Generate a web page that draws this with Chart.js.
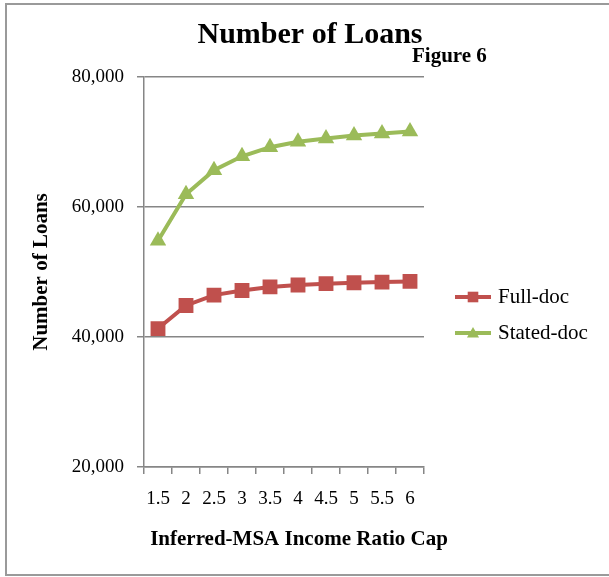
<!DOCTYPE html>
<html>
<head>
<meta charset="utf-8">
<script src="https://cdn.jsdelivr.net/npm/chart.js@4/dist/chart.umd.min.js"></script>
<style>
  html, body { margin: 0; padding: 0; background: #fff; }
  #wrap { width: 609px; height: 577px; position: relative; }
  canvas { display: block; }
</style>
</head>
<body>
<div id="wrap"><canvas id="c" width="609" height="577"></canvas></div>
<script>
const categories = ['1.5', '2', '2.5', '3', '3.5', '4', '4.5', '5', '5.5', '6'];
const fullDoc = [41300, 44850, 46450, 47150, 47700, 48000, 48200, 48350, 48450, 48550];
const statedDoc = [54800, 61950, 65650, 67800, 69200, 70050, 70550, 71000, 71300, 71600];
const seriesNames = ['Full-doc', 'Stated-doc'];
const chartTitle = 'Number of Loans';
const figureLabel = 'Figure 6';
const xTitle = 'Inferred-MSA Income Ratio Cap';
const yTitle = 'Number of Loans';

const RED = '#C0504D';
const GREEN = '#9BBB59';
const GRID = '#868686';
const SERIF = '"Liberation Serif", "Times New Roman", serif';

function drawMarker(ctx, style, x, y, r, color) {
  Chart.helpers.drawPoint(ctx, {pointStyle: style, rotation: 0, borderWidth: 0}, x, y);
}

const decor = {
  id: 'decor',
  beforeDraw(chart) {
    const ctx = chart.ctx;
    ctx.save();
    ctx.fillStyle = '#fff';
    ctx.fillRect(0, 0, chart.width, chart.height);
    ctx.strokeStyle = '#9a9a9a';
    ctx.lineWidth = 2;
    ctx.strokeRect(6, 4, chart.width + 10, chart.height - 6);
    ctx.restore();
  },
  afterDraw(chart) {
    const ctx = chart.ctx;
    const a = chart.chartArea;
    ctx.save();
    ctx.fillStyle = '#000';
    ctx.textBaseline = 'middle';
    // title
    ctx.font = 'bold 30px ' + SERIF;
    ctx.textAlign = 'center';
    ctx.fillText(chartTitle, 310, 35);
    // figure label
    ctx.font = 'bold 21px ' + SERIF;
    ctx.textAlign = 'left';
    ctx.fillText(figureLabel, 412, 57);
    // x title
    ctx.font = 'bold 21px ' + SERIF;
    ctx.textAlign = 'center';
    ctx.fillText(xTitle, 299, 540);
    // y title
    ctx.save();
    ctx.translate(42, (a.top + a.bottom) / 2);
    ctx.rotate(-Math.PI / 2);
    ctx.fillText(yTitle, 0, 0);
    ctx.restore();
    // legend
    const items = [
      {name: seriesNames[0], color: RED, style: 'rect', r: 7.5, y: 297},
      {name: seriesNames[1], color: GREEN, style: 'triangle', r: 7, y: 333}
    ];
    ctx.font = '21px ' + SERIF;
    ctx.textAlign = 'left';
    items.forEach(it => {
      ctx.strokeStyle = it.color;
      ctx.lineWidth = 4;
      ctx.beginPath();
      ctx.moveTo(455, it.y);
      ctx.lineTo(491, it.y);
      ctx.stroke();
      ctx.fillStyle = it.color;
      Chart.helpers.drawPoint(ctx, {pointStyle: it.style, radius: it.r, rotation: 0, borderWidth: 0}, 473, it.style === 'triangle' ? it.y + 1 : it.y);
      ctx.fillStyle = '#000';
      ctx.fillText(it.name, 498, it.y);
    });
    ctx.restore();
  }
};

new Chart(document.getElementById('c'), {
  type: 'line',
  data: {
    labels: categories,
    datasets: [
      {
        label: seriesNames[0],
        data: fullDoc,
        borderColor: RED,
        backgroundColor: RED,
        borderWidth: 4,
        pointStyle: 'rect',
        pointRadius: 10.5,
        pointBorderWidth: 0,
        pointBackgroundColor: RED,
        tension: 0
      },
      {
        label: seriesNames[1],
        data: statedDoc,
        borderColor: GREEN,
        backgroundColor: GREEN,
        borderWidth: 4,
        pointStyle: 'triangle',
        pointRadius: 9.5,
        pointBorderWidth: 0,
        pointBackgroundColor: GREEN,
        tension: 0
      }
    ]
  },
  options: {
    responsive: false,
    animation: false,
    devicePixelRatio: 1,
    layout: { padding: { top: 77, right: 185, left: 0, bottom: 0 } },
    plugins: {
      legend: { display: false },
      title: { display: false },
      tooltip: { enabled: false }
    },
    scales: {
      x: {
        type: 'category',
        offset: true,
        grid: {
          offset: true,
          drawOnChartArea: false,
          drawTicks: true,
          tickLength: 7,
          color: GRID,
          lineWidth: 1.5
        },
        border: { display: true, color: GRID, width: 1.5 },
        ticks: {
          color: '#000',
          font: { family: SERIF, size: 19 },
          padding: 14,
          maxRotation: 0,
          autoSkip: false
        },
        afterFit(scale) { scale.height = 110; }
      },
      y: {
        min: 20000,
        max: 80000,
        grid: {
          color: GRID,
          lineWidth: 1.5,
          tickLength: 7,
          drawTicks: true
        },
        border: { display: true, color: GRID, width: 1.5 },
        ticks: {
          stepSize: 20000,
          color: '#000',
          font: { family: SERIF, size: 19 },
          padding: 13,
          callback: v => v.toLocaleString('en-US')
        },
        afterFit(scale) { scale.width = 144; }
      }
    }
  },
  plugins: [decor]
});
</script>
</body>
</html>
